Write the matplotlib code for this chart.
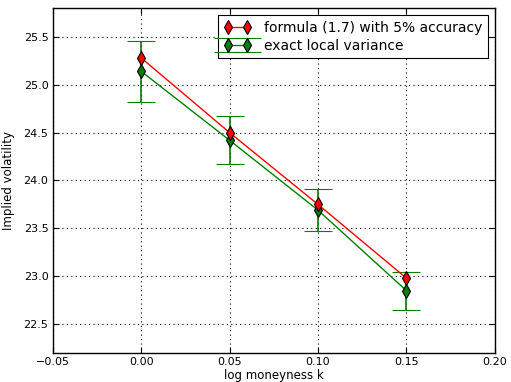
import numpy as np
import matplotlib
matplotlib.use('Agg')
import matplotlib.pyplot as plt

# values

K = [0.0, 0.05, 0.10, 0.15]
FORMULA_VOL = [25.28, 24.50, 23.75, 22.98]
EXACT_VOL = [25.14, 24.42, 23.69, 22.85]
EXACT_ERR = [0.32, 0.25, 0.22, 0.20]

X_TICKS = [-0.05, 0.0, 0.05, 0.10, 0.15, 0.20]
Y_TICKS = [22.5, 23.0, 23.5, 24.0, 24.5, 25.0, 25.5]

plt.rcParams['font.family'] = 'DejaVu Sans'
plt.rcParams['font.size'] = 8

fig = plt.figure(figsize=(5.11, 3.82), dpi=100)
ax = fig.add_axes([0.103, 0.076, 0.8656, 0.903])

ax.plot(K, FORMULA_VOL, color='red', lw=1, marker='d', ms=7.5,
        mfc='red', mec='black', mew=0.8, zorder=4,
        label='formula (1.7) with 5% accuracy')
ax.errorbar(K, EXACT_VOL, yerr=EXACT_ERR, color='green', lw=1,
            marker='d', ms=7.5, mfc='green', mec='black', mew=0.8,
            ecolor='green', elinewidth=1.2, capsize=10, capthick=1.2,
            zorder=3, label='exact local variance')

ax.set_xlim(-0.05, 0.20)
ax.set_ylim(22.2, 25.8)
ax.set_xticks(X_TICKS)
ax.set_yticks(Y_TICKS)
ax.set_xticklabels(['\u22120.05', '0.00', '0.05', '0.10', '0.15', '0.20'])
ax.set_yticklabels(['%.1f' % v for v in Y_TICKS])

ax.grid(True, color='black', linestyle=(0, (1, 3)), linewidth=0.8)
ax.tick_params(direction='in', top=True, right=True, length=4, width=0.8,
               labelsize=8, pad=3)
for sp in ax.spines.values():
    sp.set_linewidth(1)

ax.set_xlabel('log moneyness k', fontsize=8.5, labelpad=1)
ax.set_ylabel('Implied volatility', fontsize=8.5, labelpad=6)

leg = ax.legend(loc='upper right', fontsize=10, numpoints=2, fancybox=False,
                framealpha=1, edgecolor='black', borderaxespad=0.5,
                handlelength=2.0, borderpad=0.4, labelspacing=0.3,
                handletextpad=0.9)
leg.get_frame().set_linewidth(0.8)

fig.savefig('out.png', dpi=100)
